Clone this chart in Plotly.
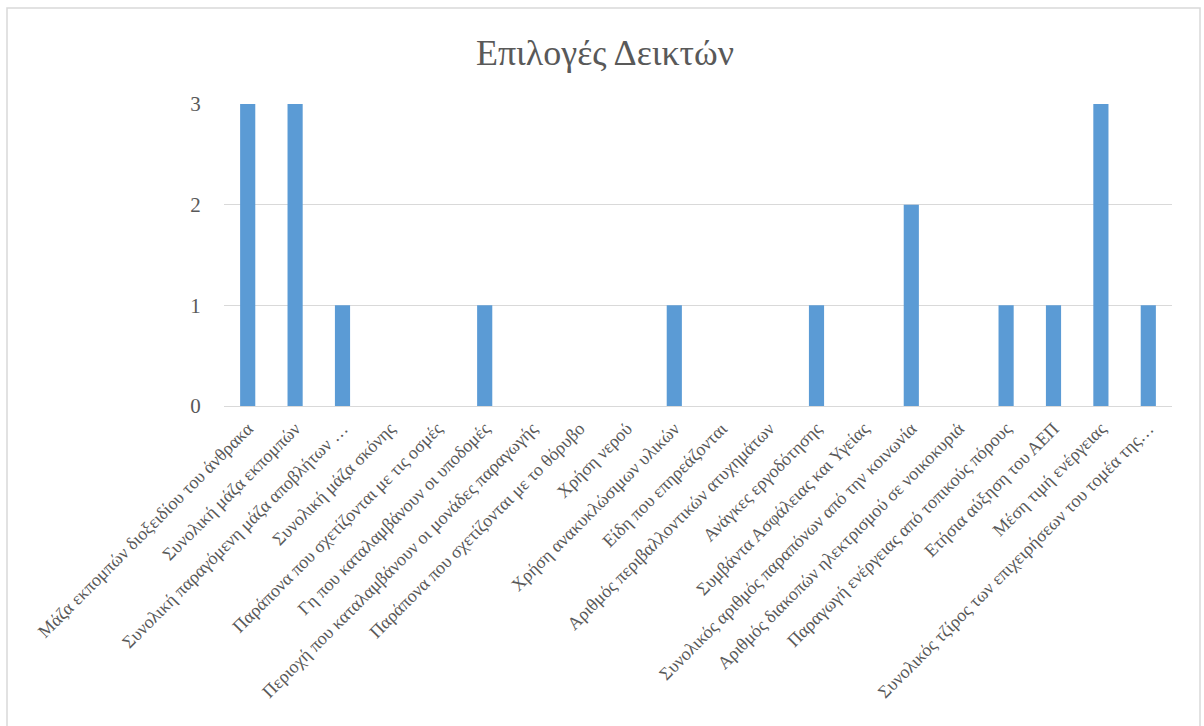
import plotly.graph_objects as go

categories = [
    "Μάζα εκπομπών διοξειδίου του άνθρακα",
    "Συνολική μάζα εκπομπών",
    "Συνολική παραγόμενη μάζα αποβλήτων …",
    "Συνολική μάζα σκόνης",
    "Παράπονα που σχετίζονται με τις οσμές",
    "Γη που καταλαμβάνουν οι υποδομές",
    "Περιοχή που καταλαμβάνουν οι μονάδες παραγωγής",
    "Παράπονα που σχετίζονται με το θόρυβο",
    "Χρήση νερού",
    "Χρήση ανακυκλώσιμων υλικών",
    "Είδη που επηρεάζονται",
    "Αριθμός περιβαλλοντικών ατυχημάτων",
    "Ανάγκες εργοδότησης",
    "Συμβάντα Ασφάλειας και Υγείας",
    "Συνολικός αριθμός παραπόνων από την κοινωνία",
    "Αριθμός διακοπών ηλεκτρισμού σε νοικοκυριά",
    "Παραγωγή ενέργειας από τοπικούς πόρους",
    "Ετήσια αύξηση του ΑΕΠ",
    "Μέση τιμή ενέργειας",
    "Συνολικός τζίρος των επιχειρήσεων του τομέα της…",
]
values = [3, 3, 1, 0, 0, 1, 0, 0, 0, 1, 0, 0, 1, 0, 2, 0, 1, 1, 3, 1]
y_ticks = [0, 1, 2, 3]

fig = go.Figure(go.Bar(x=categories, y=values, marker_color="#5B9BD5",
                       marker_line_width=0))

L, R, T, B = 224, 1172, 104, 406
W, H = 1204, 726
pw, ph = R - L, B - T

fig.update_layout(
    width=W, height=H,
    margin=dict(l=L, r=W - R, t=T, b=H - B),
    paper_bgcolor="white", plot_bgcolor="white",
    bargap=0.68,
    showlegend=False,
    font=dict(family="Liberation Serif", color="#595959"),
    title=dict(text="Επιλογές Δεικτών", x=605 / W, xanchor="center", xref="container",
               y=1 - 52 / H, yanchor="middle", yref="container",
               font=dict(family="Liberation Serif", size=36, color="#595959")),
    xaxis=dict(tickangle=-45, tickfont=dict(size=18, color="#595959"),
               showgrid=False, showline=True, linecolor="#d9d9d9",
               ticks="outside", ticklen=4, tickcolor="rgba(0,0,0,0)",
               automargin=False),
    yaxis=dict(range=[0, 3], tickvals=y_ticks, tickfont=dict(size=21, color="#595959"),
               showgrid=True, gridcolor="#d9d9d9", gridwidth=1,
               zeroline=False, showline=False, ticks="outside", ticklen=18,
               tickcolor="rgba(0,0,0,0)", automargin=False),
    shapes=[dict(type="rect", xref="paper", yref="paper",
                 x0=(7 - L) / pw, x1=(1200 - L) / pw,
                 y0=(B - 740) / ph, y1=(B - 8) / ph,
                 line=dict(color="#d9d9d9", width=1.5), layer="below")],
)

fig.write_html("out.html")
